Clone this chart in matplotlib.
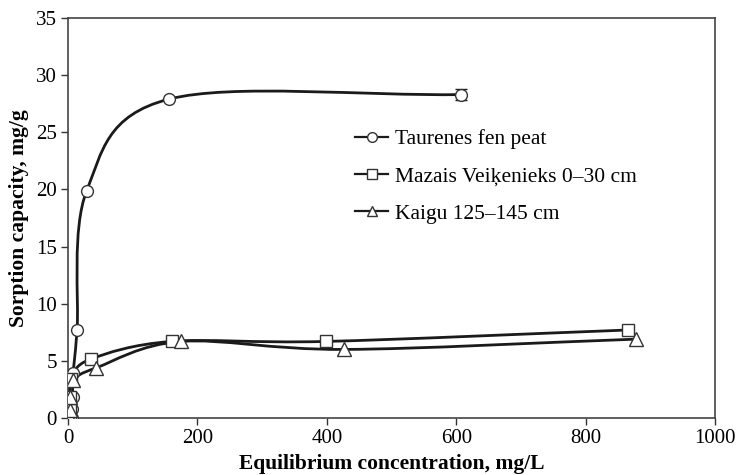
import numpy as np
import matplotlib
matplotlib.use("Agg")
import matplotlib.pyplot as plt
from matplotlib.path import Path
from matplotlib.patches import PathPatch
from matplotlib.lines import Line2D

plt.rcParams['font.family'] = ['Liberation Serif', 'DejaVu Serif']

series_names = ["Taurenes fen peat", "Mazais Veiķenieks 0\u201330 cm", "Kaigu 125\u2013145 cm"]
taur_x = [6, 6, 7, 8, 14, 29, 156, 608]
taur_y = [0, 0.8, 1.8, 3.9, 7.7, 19.9, 27.9, 28.3]
taur_err = [0, 0, 0, 0, 0, 0, 0, 0.5]
maz_x = [3, 3, 3, 4, 35, 160, 399, 865]
maz_y = [0, 0.7, 1.8, 3.4, 5.15, 6.7, 6.7, 7.7]
kai_x = [3, 3, 3, 8, 44, 175, 427, 878]
kai_y = [0, 0.7, 1.8, 3.3, 4.4, 6.7, 6.0, 6.9]
xticks = [0, 200, 400, 600, 800, 1000]
yticks = [0, 5, 10, 15, 20, 25, 30, 35]

fig = plt.figure(figsize=(7.36, 4.75), dpi=100)
ax = fig.add_axes([68/736, 57/475, 647/736, 400/475])
ax.set_xlim(0, 1000)
ax.set_ylim(0, 35)

def smooth_path(x, y, alpha=0.0):
    x = np.asarray(x, float); y = np.asarray(y, float)
    sx, sy = 647/1000, 400/35
    P = np.column_stack([x*sx, y*sy])
    n = len(P)
    ext = np.vstack([2*P[0]-P[1], P, 2*P[-1]-P[-2]])
    verts = [P[0]]
    codes = [Path.MOVETO]
    for i in range(n-1):
        p0, p1, p2, p3 = ext[i], ext[i+1], ext[i+2], ext[i+3]
        d0 = max(np.linalg.norm(p1-p0)**alpha, 1e-6)
        d1 = max(np.linalg.norm(p2-p1)**alpha, 1e-6)
        d2 = max(np.linalg.norm(p3-p2)**alpha, 1e-6)
        m1 = ((p1-p0)/d0 - (p2-p0)/(d0+d1) + (p2-p1)/d1) * d1
        m2 = ((p2-p1)/d1 - (p3-p1)/(d1+d2) + (p3-p2)/d2) * d1
        c1 = p1 + m1/3
        c2 = p2 - m2/3
        verts += [c1, c2, p2]
        codes += [Path.CURVE4]*3
    V = np.array(verts)
    V[:, 0] /= sx; V[:, 1] /= sy
    return Path(V, codes)

lc = '#1a1a1a'
for xs, ys in [(taur_x, taur_y), (maz_x, maz_y), (kai_x, kai_y)]:
    ax.add_patch(PathPatch(smooth_path(xs, ys), facecolor='none', edgecolor=lc, lw=2.0, zorder=2))

ax.errorbar(taur_x, taur_y, yerr=taur_err, fmt='none', ecolor=lc, elinewidth=1, capsize=4, zorder=2.5)
mk = dict(ls='none', markersize=8.5, markerfacecolor='white', markeredgecolor='#333333', markeredgewidth=1.0, zorder=3)
ax.plot(taur_x, taur_y, marker='o', **mk)
ax.plot(maz_x, maz_y, marker='s', **mk)
ax.plot(kai_x, kai_y, marker='^', **dict(mk, markersize=9.5))

handles = [Line2D([], [], color=lc, lw=1.6, marker=m, markersize=7, markerfacecolor='white',
                  markeredgecolor='#333333', markeredgewidth=1.0)
           for m in ['o', 's', '^']]
ax.legend(handles, series_names, loc='upper left', bbox_to_anchor=(0.4436, 0.722), frameon=False,
          fontsize=15.5, handlelength=1.55, handletextpad=0.3, labelspacing=0.8,
          borderpad=0, borderaxespad=0)

ax.set_xticks(xticks)
ax.set_yticks(yticks)
ax.tick_params(labelsize=15, length=5, width=1, color='#333333', direction='out', pad=3)
for s in ax.spines.values():
    s.set_color('#444444'); s.set_linewidth(1.2)
ax.set_xlabel("Equilibrium concentration, mg/L", fontsize=15.5, fontweight='bold', labelpad=4)
ax.set_ylabel("Sorption capacity, mg/g", fontsize=15.5, fontweight='bold', labelpad=5)

fig.savefig("out.png", dpi=100)
